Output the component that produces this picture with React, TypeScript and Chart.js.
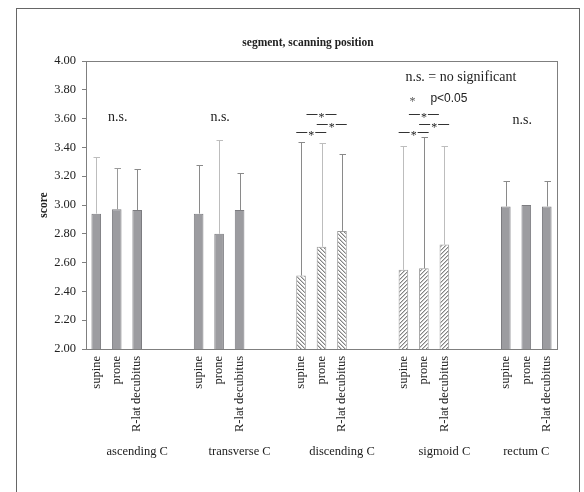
import { useEffect, useRef } from 'react';
import { Chart, registerables } from 'chart.js';

Chart.register(...registerables);

// ---- data ----
const segments = ['ascending C', 'transverse C', 'discending C', 'sigmoid C', 'rectum C'];
const positions = ['supine', 'prone', 'R-lat decubitus'];
const ascendingMean = [2.94, 2.97, 2.965];
const ascendingUpper = [3.33, 3.26, 3.25];
const transverseMean = [2.94, 2.8, 2.965];
const transverseUpper = [3.28, 3.45, 3.22];
const discendingMean = [2.51, 2.71, 2.82];
const discendingUpper = [3.44, 3.43, 3.355];
const sigmoidMean = [2.55, 2.56, 2.725];
const sigmoidUpper = [3.41, 3.47, 3.41];
const rectumMean = [2.99, 3.0, 2.99];
const rectumUpper: (number | null)[] = [3.165, null, 3.165];
const yMin = 2.0;
const yMax = 4.0;
const yStep = 0.2;
const titleText = 'segment, scanning position';
const yTitle = 'score';
const nsText = 'n.s.';
const legendNs = 'n.s. = no significant';
const legendStar = '*';
const legendP = 'p<0.05';
// significance marker levels (score units) for pairs: [a,b] within group
const sigPairs = [
  { a: 0, b: 1, level: 3.51 },
  { a: 1, b: 2, level: 3.565 },
  { a: 0, b: 2, level: 3.635 },
];
const sigGroups = [2, 3];
const nsGroups = [
  { g: 0, level: 3.61 },
  { g: 1, level: 3.61 },
  { g: 4, level: 3.59 },
];

const means = [ascendingMean, transverseMean, discendingMean, sigmoidMean, rectumMean];
const uppers: (number | null)[][] = [ascendingUpper, transverseUpper, discendingUpper, sigmoidUpper, rectumUpper];

// ---- styles ----
const segmentFill = ['solid', 'solid', 'back', 'fwd', 'solid'];
const whiskerColors = [
  '#bdbdbd', '#9a9a9a', '#8a8a8a',
  '#8a8a8a', '#bdbdbd', '#8a8a8a',
  '#8a8a8a', '#bdbdbd', '#8a8a8a',
  '#bdbdbd', '#8a8a8a', '#bdbdbd',
  '#8a8a8a', '#8a8a8a', '#8a8a8a',
];
const SERIF = '"Liberation Serif", "Times New Roman", serif';
const SANS = '"Liberation Sans", Arial, sans-serif';

// build slots: 3 bars + 2 empty slots between groups
const labels: string[] = [];
const values: (number | null)[] = [];
const upperVals: (number | null)[] = [];
const slotGroup: number[] = [];
const slotBar: number[] = [];
const groupStart: number[] = [];
segments.forEach((_, g) => {
  groupStart.push(labels.length);
  positions.forEach((p, i) => {
    labels.push(p);
    values.push(means[g][i]);
    upperVals.push(uppers[g][i]);
    slotGroup.push(g);
    slotBar.push(g * 3 + i);
  });
  if (g < segments.length - 1) {
    for (let k = 0; k < 2; k++) {
      labels.push('');
      values.push(null);
      upperVals.push(null);
      slotGroup.push(-1);
      slotBar.push(-1);
    }
  }
});
// group label anchor (bar index within group)
const groupLabelBar = [2, 2, 2, 2, 1];

function makeHatch(dir: 'back' | 'fwd'): CanvasPattern | string {
  const c = document.createElement('canvas');
  c.width = 4;
  c.height = 4;
  const ctx = c.getContext('2d');
  if (!ctx) return '#ffffff';
  const img = ctx.createImageData(4, 4);
  for (let y = 0; y < 4; y++) {
    for (let x = 0; x < 4; x++) {
      const m = dir === 'back' ? (((x - y) % 4) + 4) % 4 : (x + y) % 4;
      let v = 255;
      if (m === 0) v = 130;
      else if (m === 1) v = 200;
      const o = (y * 4 + x) * 4;
      img.data[o] = v;
      img.data[o + 1] = v;
      img.data[o + 2] = v;
      img.data[o + 3] = 255;
    }
  }
  ctx.putImageData(img, 0, 0);
  const main = document.createElement('canvas').getContext('2d');
  return main ? (main.createPattern(c, 'repeat') as CanvasPattern) : '#ffffff';
}

export default function App() {
  const ref = useRef<HTMLCanvasElement | null>(null);

  useEffect(() => {
    if (!ref.current) return;
    const back = makeHatch('back');
    const fwd = makeHatch('fwd');
    const bg = slotGroup.map((g) => {
      if (g < 0) return 'transparent';
      const f = segmentFill[g];
      if (f === 'back') return back;
      if (f === 'fwd') return fwd;
      return '#9c9ca0';
    });
    const bc = slotGroup.map((g) => (g < 0 ? 'transparent' : segmentFill[g] === 'solid' ? '#7c7c80' : '#9a9a9a'));

    const overlay = {
      id: 'overlay',
      afterDatasetsDraw(chart: any) {
        const ctx = chart.ctx as CanvasRenderingContext2D;
        const ys = chart.scales.y;
        const xs = chart.scales.x;
        const meta = chart.getDatasetMeta(0);
        ctx.save();
        // error whiskers
        meta.data.forEach((el: any, i: number) => {
          const up = upperVals[i];
          if (up == null || values[i] == null) return;
          const x = Math.round(el.x) + 0.5;
          const yTop = Math.round(ys.getPixelForValue(up)) + 0.5;
          ctx.strokeStyle = whiskerColors[slotBar[i]];
          ctx.lineWidth = 1;
          ctx.beginPath();
          ctx.moveTo(x, el.y);
          ctx.lineTo(x, yTop);
          ctx.moveTo(x - 3, yTop);
          ctx.lineTo(x + 3.5, yTop);
          ctx.stroke();
        });
        // plot frame
        const a = chart.chartArea;
        ctx.strokeStyle = '#7f7f7f';
        ctx.lineWidth = 1;
        ctx.strokeRect(Math.round(a.left) + 0.5, Math.round(a.top) + 0.5, Math.round(a.right - a.left), Math.round(a.bottom - a.top));

        ctx.fillStyle = '#222';
        // n.s. labels
        ctx.font = `14px ${SERIF}`;
        ctx.textAlign = 'center';
        ctx.textBaseline = 'middle';
        nsGroups.forEach(({ g, level }) => {
          const x = xs.getPixelForValue(groupStart[g] + 1) + (g === 4 ? -4 : 1);
          ctx.fillText(nsText, x, ys.getPixelForValue(level));
        });
        // legend text
        ctx.textAlign = 'left';
        const lx = xs.getPixelForValue(groupStart[3]) + 2;
        ctx.fillText(legendNs, lx, ys.getPixelForValue(3.89));
        ctx.font = `12px ${SERIF}`;
        ctx.textAlign = 'center';
        ctx.textBaseline = 'alphabetic';
        ctx.fillStyle = '#555';
        ctx.fillText(legendStar, lx + 7, ys.getPixelForValue(3.745) + 7);
        ctx.fillStyle = '#222';
        ctx.font = `12px ${SANS}`;
        ctx.textAlign = 'left';
        ctx.textBaseline = 'middle';
        ctx.fillText(legendP, lx + 25, ys.getPixelForValue(3.74));
        // significance markers
        sigGroups.forEach((g) => {
          sigPairs.forEach(({ a: pa, b: pb, level }) => {
            const x1 = xs.getPixelForValue(groupStart[g] + pa);
            const x2 = xs.getPixelForValue(groupStart[g] + pb);
            const cx = (x1 + x2) / 2;
            const y = Math.round(ys.getPixelForValue(level)) + 0.5;
            ctx.strokeStyle = '#333';
            ctx.lineWidth = 1.2;
            ctx.beginPath();
            ctx.moveTo(cx - 15, y);
            ctx.lineTo(cx - 4, y);
            ctx.moveTo(cx + 4, y);
            ctx.lineTo(cx + 15, y);
            ctx.stroke();
            ctx.font = `12px ${SERIF}`;
            ctx.textAlign = 'center';
            ctx.textBaseline = 'alphabetic';
            ctx.fillText('*', cx, y + 6);
          });
        });
        // group labels
        ctx.font = `12.5px ${SERIF}`;
        ctx.textAlign = 'center';
        ctx.textBaseline = 'middle';
        segments.forEach((s, g) => {
          const x = xs.getPixelForValue(groupStart[g] + groupLabelBar[g]);
          ctx.fillText(s, x, a.bottom + 103);
        });
        // title
        ctx.font = `bold 11.5px ${SERIF}`;
        ctx.fillText(titleText, a.left + 222, a.top - 18);
        // y title
        ctx.save();
        ctx.translate(a.left - 41.5, (a.top + a.bottom) / 2);
        ctx.rotate(-Math.PI / 2);
        ctx.font = `bold 11.5px ${SERIF}`;
        ctx.fillText(yTitle, 0, 0);
        ctx.restore();
        ctx.restore();
      },
    };

    const chart = new Chart(ref.current, {
      type: 'bar',
      data: {
        labels,
        datasets: [
          {
            data: values,
            backgroundColor: bg as any,
            borderColor: bc,
            borderWidth: 1,
            barPercentage: 0.47,
            categoryPercentage: 1,
          },
        ],
      },
      options: {
        responsive: false,
        animation: false,
        devicePixelRatio: 1,
        layout: { padding: { left: 29, right: 22, top: 52, bottom: 0 } },
        plugins: { legend: { display: false }, tooltip: { enabled: false }, title: { display: false } },
        scales: {
          x: {
            grid: { display: false, drawTicks: false },
            border: { display: true, color: '#7f7f7f', width: 1 },
            ticks: {
              autoSkip: false,
              minRotation: 90,
              maxRotation: 90,
              padding: 7,
              color: '#222',
              font: { family: SERIF, size: 12.5 },
            },
            afterFit(scale: any) {
              scale.height = 143;
            },
          },
          y: {
            min: yMin,
            max: yMax,
            grid: { display: true, drawOnChartArea: false, drawTicks: true, tickLength: 4, color: '#7f7f7f' },
            border: { display: true, color: '#7f7f7f', width: 1 },
            ticks: {
              stepSize: yStep,
              padding: 6,
              color: '#222',
              font: { family: SERIF, size: 12.5 },
              callback: (v: any) => Number(v).toFixed(2),
            },
            afterFit(scale: any) {
              scale.width = 40;
            },
          },
        },
      },
      plugins: [overlay],
    });
    return () => chart.destroy();
  }, []);

  return (
    <div
      style={{
        position: 'fixed',
        left: 16,
        top: 8,
        width: 562,
        height: 484,
        borderTop: '1px solid #666',
        borderLeft: '1px solid #666',
        borderRight: '1px solid #666',
        background: '#fff',
      }}
    >
      <canvas ref={ref} width={562} height={483} style={{ display: 'block', width: 562, height: 483 }} />
    </div>
  );
}
